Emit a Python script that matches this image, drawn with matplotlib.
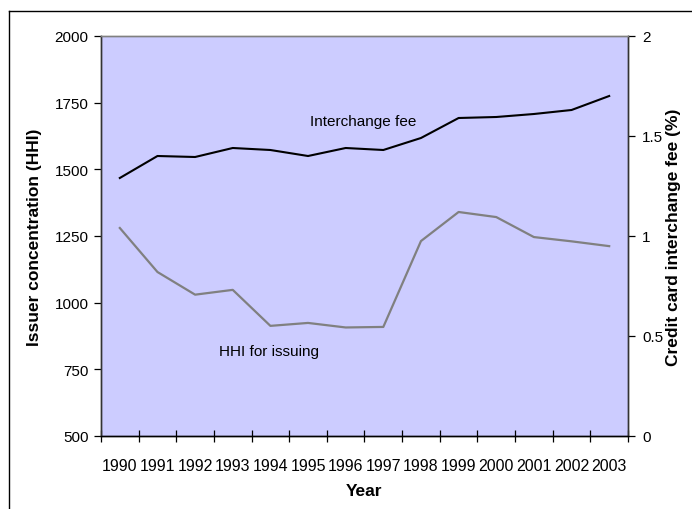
import numpy as np
import matplotlib
matplotlib.use("Agg")
import matplotlib.pyplot as plt
from matplotlib.lines import Line2D

plt.rcParams['font.family'] = ['Liberation Sans', 'DejaVu Sans']

years = ["1990", "1991", "1992", "1993", "1994", "1995", "1996",
         "1997", "1998", "1999", "2000", "2001", "2002", "2003"]
hhi_issuing = [1280, 1115, 1030, 1048, 913, 924, 907, 909, 1231, 1340, 1321, 1246, 1230, 1212]
interchange_fee = [1.29, 1.40, 1.395, 1.44, 1.43, 1.40, 1.44, 1.43, 1.49, 1.59, 1.595, 1.61, 1.63, 1.70]

fig = plt.figure(figsize=(6.92, 5.10), dpi=100)
ax = fig.add_axes([101/692, 1-437/510, 527/692, 400/510])
ax2 = ax.twinx()

x = np.arange(len(years))

ax.set_facecolor("#CCCCFF")
ax.plot(x, hhi_issuing, color="#808080", lw=1.6, zorder=3)
ax2.plot(x, interchange_fee, color="black", lw=1.5, zorder=3)

ax.set_xlim(-0.5, len(years) - 0.5)
ax.set_ylim(500, 2000)
ax.set_yticks([500, 750, 1000, 1250, 1500, 1750, 2000])
ax2.set_ylim(0, 2)
ax2.set_yticks([0, 0.5, 1, 1.5, 2])
ax2.set_yticklabels(["0", "0.5", "1", "1.5", "2"])

# year labels centred in categories, tick marks between them
ax.set_xticks(x)
ax.set_xticklabels(years)
ax.set_xticks(np.arange(-0.5, len(years)), minor=True)
ax.tick_params(axis="x", which="major", length=0, pad=16, labelsize=11.5)
ax.tick_params(axis="x", which="minor", direction="inout", length=8, width=0.9)
ax.tick_params(axis="y", direction="out", length=5, width=0.9, labelsize=11, pad=4)
ax2.tick_params(axis="y", direction="out", length=5, width=0.9, labelsize=11, pad=5)

for a in (ax, ax2):
    a.spines["top"].set_color("#808080")
    a.spines["left"].set_color("#333333")
    a.spines["right"].set_color("#333333")
    a.spines["bottom"].set_color("black")
    for s in a.spines.values():
        s.set_linewidth(1.0)

ax.set_xlabel("Year", fontsize=12.5, fontweight="bold", labelpad=7)
ax.set_ylabel("Issuer concentration (HHI)", fontsize=12.5, fontweight="bold", labelpad=9)
ax2.set_ylabel("Credit card interchange fee (%)", fontsize=12.5, fontweight="bold", labelpad=2)

ax.text(5.05, 1681, "Interchange fee", fontsize=11, va="center", ha="left")
ax.text(2.63, 819, "HHI for issuing", fontsize=11, va="center", ha="left")

# outer chart border (left and top edges visible)
fig.add_artist(Line2D([9/692, 9/692], [0, 1-12/510], transform=fig.transFigure, color="black", lw=1.0))
fig.add_artist(Line2D([9/692, 1], [1-12/510, 1-12/510], transform=fig.transFigure, color="black", lw=1.0))

fig.savefig("out.png", dpi=100)
